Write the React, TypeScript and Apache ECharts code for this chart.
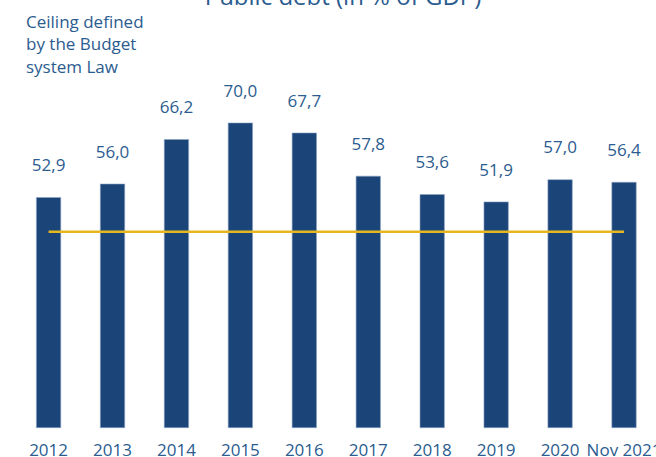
import React, { useEffect, useRef } from "react";
import * as echarts from "echarts";

const categories = ["2012", "2013", "2014", "2015", "2016", "2017", "2018", "2019", "2020", "Nov 2021"];
const debtValues = [52.9, 56.0, 66.2, 70.0, 67.7, 57.8, 53.6, 51.9, 57.0, 56.4];
const ceilingValue = 45;
const ceilingLine = categories.map(() => ceilingValue);
const titleText = "Public debt (in % of GDP)";
const ceilingLabel = "Ceiling defined\nby the Budget\nsystem Law";

const FONT = "'Open Sans', sans-serif";
const TEXT_BLUE = "#2b5c8f";
const BAR_BLUE = "#1b4479";
const GOLD = "#e6b71e";

export default function App() {
  const ref = useRef<HTMLDivElement>(null);
  useEffect(() => {
    if (!ref.current) return;
    const chart = echarts.init(ref.current, null, { renderer: "svg" });
    chart.setOption({
      animation: false,
      backgroundColor: "#ffffff",
      grid: {
        left: 16.6,
        right: 0,
        top: 79,
        bottom: 29,
        containLabel: false,
        outerBoundsMode: "none",
      },
      xAxis: {
        type: "category",
        data: categories,
        axisLine: { show: false },
        axisTick: { show: false },
        axisLabel: { color: TEXT_BLUE, fontFamily: FONT, fontSize: 17, margin: 13, interval: 0, hideOverlap: false },
      },
      yAxis: {
        type: "value",
        min: 0,
        max: 80,
        show: false,
        splitLine: { show: false },
      },
      graphic: [
        {
          type: "text",
          x: 343,
          y: -5,
          style: {
            text: titleText,
            fill: TEXT_BLUE,
            font: `24px ${FONT}`,
            align: "center",
            verticalAlign: "middle",
          },
        },
        {
          type: "text",
          x: 26,
          y: 10,
          style: {
            text: ceilingLabel,
            fill: TEXT_BLUE,
            font: `17px ${FONT}`,
            lineHeight: 22.5,
            align: "left",
            verticalAlign: "top",
          },
        },
      ],
      series: [
        {
          type: "bar",
          data: debtValues,
          barWidth: 25,
          itemStyle: { color: BAR_BLUE, borderColor: "#8ea6c4", borderWidth: 0.6 },
          label: {
            show: true,
            position: "top",
            distance: 24,
            color: TEXT_BLUE,
            fontFamily: FONT,
            fontSize: 17,
            formatter: (p: any) => Number(p.value).toFixed(1).replace(".", ","),
          },
          z: 2,
        },
        {
          type: "line",
          data: ceilingLine,
          symbol: "none",
          lineStyle: { color: GOLD, width: 2.5 },
          z: 3,
        },
      ],
    });
    return () => chart.dispose();
  }, []);
  return (
    <div
      ref={ref}
      style={{ position: "fixed", left: 0, top: 0, width: 656, height: 457 }}
    />
  );
}
